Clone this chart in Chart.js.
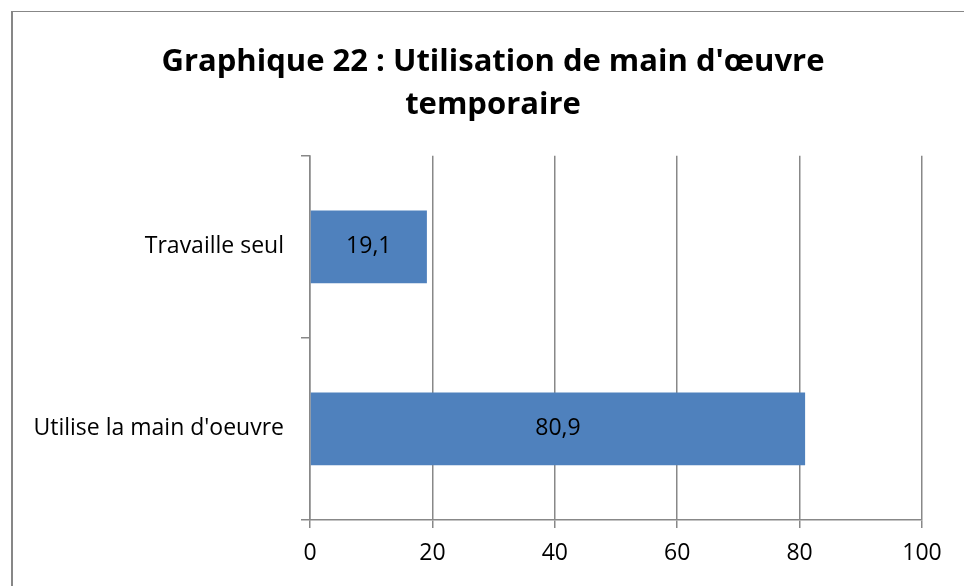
<!DOCTYPE html>
<html>
<head>
<meta charset="utf-8">
<script src="https://cdn.jsdelivr.net/npm/chart.js@4"></script>
<style>
  html, body { margin: 0; padding: 0; background: #fff; }
  #wrap { position: relative; width: 964px; height: 586px; overflow: hidden; }
  #frame {
    position: absolute; left: 11px; top: 11px; width: 980px; height: 600px;
    border-left: 2px solid #878787; border-top: 1px solid #878787;
  }
  canvas { position: absolute; left: 0; top: 0; }
</style>
</head>
<body>
<div id="wrap">
  <div id="frame"></div>
  <canvas id="chart" width="964" height="586"></canvas>
</div>
<script>
const categories = ['Travaille seul', "Utilise la main d'oeuvre"];
const values = [19.1, 80.9];
const titleLines = ["Graphique 22 : Utilisation de main d'œuvre", 'temporaire'];
const xTicks = [0, 20, 40, 60, 80, 100];

const gridColor = '#888888';
const fontFamily = '"Open Sans", sans-serif';

// draws the value in the middle of each bar
const barLabels = {
    id: 'barLabels',
    afterDatasetsDraw(chart) {
        const ctx = chart.ctx;
        const meta = chart.getDatasetMeta(0);
        ctx.save();
        ctx.font = '23px ' + fontFamily;
        ctx.fillStyle = '#000';
        ctx.textAlign = 'center';
        ctx.textBaseline = 'middle';
        meta.data.forEach((bar, i) => {
            const cx = (bar.x + bar.base) / 2;
            ctx.fillText(values[i].toString().replace('.', ','), cx, bar.y);
        });
        ctx.restore();
    }
};

new Chart(document.getElementById('chart'), {
    type: 'bar',
    data: {
        labels: categories,
        datasets: [{
            data: values,
            backgroundColor: '#4F81BD',
            borderWidth: 0,
            barPercentage: 0.4,
            categoryPercentage: 1
        }]
    },
    options: {
        indexAxis: 'y',
        responsive: false,
        animation: false,
        layout: {
            padding: { left: 22, right: 0, top: 0, bottom: 0 }
        },
        plugins: {
            legend: { display: false },
            tooltip: { enabled: false },
            title: {
                display: true,
                text: titleLines,
                color: '#000',
                font: { family: fontFamily, size: 31, weight: 'bold', lineHeight: 1.4 },
                padding: { top: 40, bottom: 29 }
            }
        },
        scales: {
            x: {
                min: 0,
                max: 100,
                afterBuildTicks: (axis) => { axis.ticks = xTicks.map(v => ({ value: v })); },
                afterFit: (axis) => {
                    axis.height = 66;
                    axis.paddingLeft = 0;
                    axis.paddingRight = 42;
                },
                grid: { color: gridColor, lineWidth: 1.5, tickLength: 8 },
                border: { display: true, color: gridColor, width: 1.5 },
                ticks: {
                    color: '#000',
                    padding: 12,
                    font: { family: fontFamily, size: 23 }
                }
            },
            y: {
                offset: true,
                afterFit: (axis) => { axis.width = 288; },
                grid: {
                    offset: true,
                    drawOnChartArea: false,
                    color: gridColor,
                    lineWidth: 1.5,
                    tickLength: 9
                },
                border: { display: true, color: gridColor, width: 1.5 },
                ticks: {
                    color: '#000',
                    padding: 17,
                    font: { family: fontFamily, size: 23 }
                }
            }
        }
    },
    plugins: [barLabels]
});
</script>
</body>
</html>
